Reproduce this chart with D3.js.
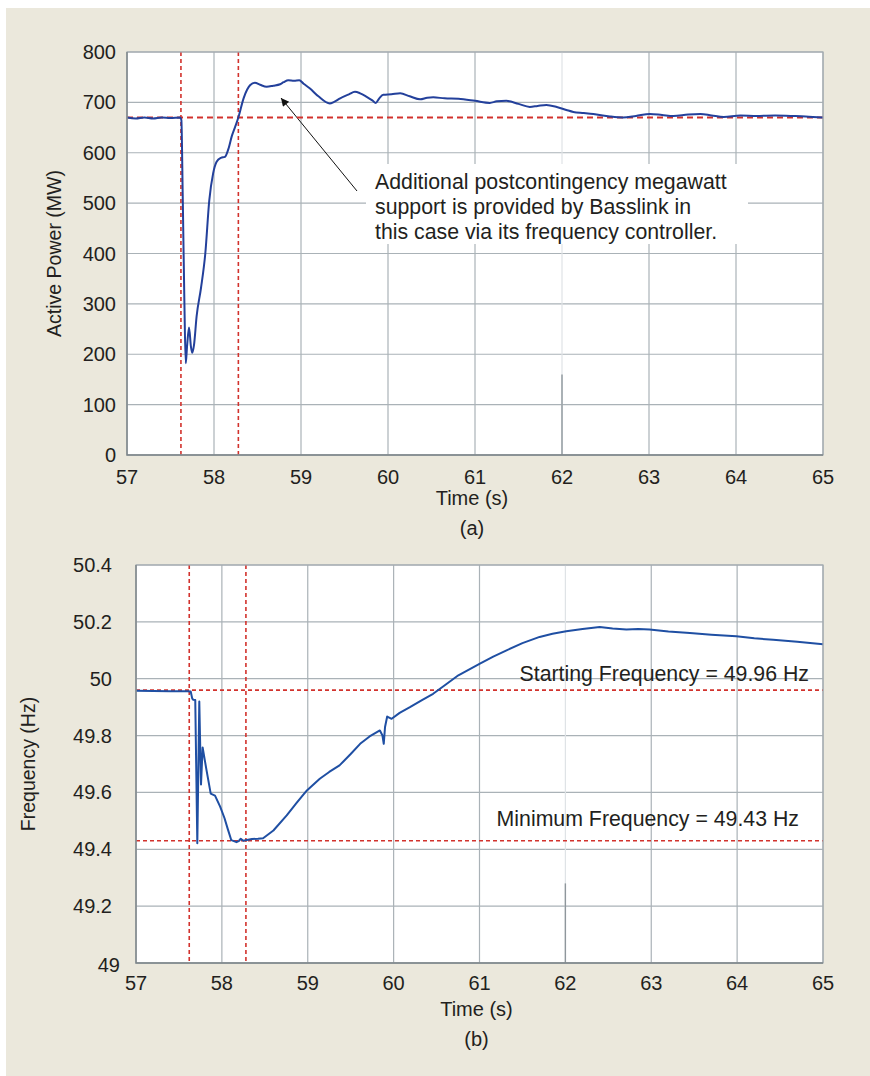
<!DOCTYPE html>
<html>
<head>
<meta charset="utf-8">
<script src="https://cdn.jsdelivr.net/npm/d3@7"></script>
<style>
  body { margin: 0; background: #fff; }
  text { font-family: "Liberation Sans", Arial, sans-serif; fill: #231f20; }
</style>
</head>
<body>
<div id="chart"></div>
<script>
// data
const timeTicks = [57, 58, 59, 60, 61, 62, 63, 64, 65];
const powerTicks = [0, 100, 200, 300, 400, 500, 600, 700, 800];
const freqTicks = [49, 49.2, 49.4, 49.6, 49.8, 50, 50.2, 50.4];

// (a) active power, MW
const powerT = [57.00, 57.10, 57.20, 57.30, 57.40, 57.50, 57.61, 57.625, 57.64, 57.66, 57.675,
  57.69, 57.713, 57.735, 57.75, 57.77, 57.80, 57.85, 57.90, 57.946, 57.99, 58.03, 58.08, 58.126,
  58.17, 58.203, 58.24, 58.28, 58.34, 58.38, 58.414, 58.47, 58.53, 58.605, 58.68, 58.76, 58.80,
  58.854, 58.92, 58.98, 59.03, 59.10, 59.20, 59.33, 59.38, 59.45, 59.55, 59.62, 59.68, 59.755,
  59.82, 59.86, 59.90, 59.946, 60.04, 60.14, 60.25, 60.37, 60.45, 60.52, 60.65, 60.81, 61.00,
  61.17, 61.25, 61.36, 61.50, 61.63, 61.72, 61.82, 61.94, 62.05, 62.13, 62.25, 62.36, 62.55,
  62.70, 62.85, 63.01, 63.15, 63.28, 63.45, 63.59, 63.72, 63.86, 64.05, 64.24, 64.45, 64.63,
  64.80, 65.00];
const powerMW = [670, 668, 670, 668, 670, 669, 670, 665, 520, 300, 182,
  215, 253, 215, 203, 218, 275, 331, 400, 506, 559, 582, 590, 592,
  610, 632, 650, 670, 708, 725, 734, 739, 735, 731, 733, 736, 740,
  744, 743, 744, 737, 728, 712, 698, 701, 708, 716, 721, 718, 711,
  704, 699, 708, 715, 716, 718, 712, 706, 709, 710, 708, 707, 703,
  699, 702, 703, 697, 691, 693, 695, 691, 685, 681, 679, 677, 672,
  670, 673, 677, 675, 673, 676, 677, 674, 671, 674, 673, 674, 673,
  672, 670];

// (b) frequency, Hz
const freqT = [57.00, 57.20, 57.40, 57.60, 57.637, 57.655, 57.667, 57.69, 57.714, 57.737,
  57.757, 57.776, 57.82, 57.87, 57.92, 57.98, 58.03, 58.07, 58.11, 58.17, 58.20, 58.22, 58.25,
  58.29, 58.35, 58.42, 58.48, 58.60, 58.755, 58.87, 58.99, 59.14, 59.25, 59.37, 59.50, 59.61,
  59.72, 59.84, 59.87, 59.885, 59.90, 59.925, 59.977, 60.07, 60.19, 60.33, 60.46, 60.60, 60.754,
  61.005, 61.16, 61.315, 61.50, 61.70, 61.85, 62.01, 62.20, 62.40, 62.55, 62.71, 62.85, 62.98,
  63.20, 63.45, 63.70, 63.99, 64.20, 64.42, 64.70, 65.00];
const freqHz = [49.958, 49.957, 49.956, 49.956, 49.955, 49.93, 49.926, 49.925, 49.421, 49.92,
  49.628, 49.758, 49.68, 49.596, 49.589, 49.55, 49.51, 49.47, 49.432, 49.425, 49.43, 49.437, 49.43,
  49.433, 49.436, 49.437, 49.439, 49.466, 49.519, 49.563, 49.607, 49.648, 49.672, 49.695, 49.735, 49.771,
  49.797, 49.818, 49.80, 49.771, 49.83, 49.867, 49.859, 49.88, 49.90, 49.925, 49.947, 49.978, 50.012,
  50.053, 50.078, 50.10, 50.125, 50.147, 50.158, 50.167, 50.175, 50.182, 50.177, 50.173, 50.175, 50.173,
  50.166, 50.161, 50.155, 50.149, 50.142, 50.137, 50.13, 50.121];

// event markers
const eventTimes = [57.62, 58.28];
const powerRef = [670];
const freqRef = [49.96, 49.43];

const W = 870, H = 1076;
const svg = d3.select("#chart").append("svg").attr("width", W).attr("height", H);
svg.append("rect").attr("x", 6).attr("y", 8).attr("width", W - 6).attr("height", H - 8).attr("fill", "#ebe8dc");

function panel(opt) {
  const x = d3.scaleLinear().domain([57, 65]).range([opt.left, opt.right]);
  const y = d3.scaleLinear().domain(opt.yDomain).range([opt.bottom, opt.top]);
  const g = svg.append("g");

  g.append("rect")
    .attr("x", opt.left).attr("y", opt.top)
    .attr("width", opt.right - opt.left).attr("height", opt.bottom - opt.top)
    .attr("fill", "#fff");

  // grid
  g.selectAll(".hg").data(opt.yTicks).enter().append("line")
    .attr("x1", opt.left).attr("x2", opt.right)
    .attr("y1", d => y(d)).attr("y2", d => y(d))
    .attr("stroke", "#aab2b7").attr("stroke-width", 1.2);
  g.selectAll(".vg").data(timeTicks).enter().append("line")
    .attr("x1", d => x(d)).attr("x2", d => x(d))
    .attr("y1", opt.top).attr("y2", opt.bottom)
    .attr("stroke", d => d === 62 ? "#dfe3e6" : "#aab2b7").attr("stroke-width", 1.2);
  // darker stub on the 62 s line, as in the scan
  g.append("line")
    .attr("x1", x(62)).attr("x2", x(62))
    .attr("y1", y(opt.stub)).attr("y2", opt.bottom)
    .attr("stroke", "#8f979c").attr("stroke-width", 1.4);

  // annotation box goes under the dashed lines
  if (opt.note) opt.note(g, x, y);

  // red reference lines
  g.selectAll(".ev").data(eventTimes).enter().append("line")
    .attr("x1", d => x(d)).attr("x2", d => x(d))
    .attr("y1", opt.top).attr("y2", opt.bottom)
    .attr("stroke", "#d2322d").attr("stroke-width", 1.6)
    .attr("stroke-dasharray", "4,3");
  g.selectAll(".rf").data(opt.refs).enter().append("line")
    .attr("x1", opt.left).attr("x2", opt.right)
    .attr("y1", d => y(d)).attr("y2", d => y(d))
    .attr("stroke", "#d2322d").attr("stroke-width", opt.refWidth)
    .attr("stroke-dasharray", opt.refDash);

  // curve
  const line = d3.line().x(d => x(d[0])).y(d => y(d[1])).curve(opt.curve);
  g.append("path")
    .datum(d3.zip(opt.t, opt.v))
    .attr("d", line)
    .attr("fill", "none")
    .attr("stroke", opt.color)
    .attr("stroke-width", 2)
    .attr("stroke-linejoin", "round");

  // frame
  g.append("rect")
    .attr("x", opt.left).attr("y", opt.top)
    .attr("width", opt.right - opt.left).attr("height", opt.bottom - opt.top)
    .attr("fill", "none").attr("stroke", "#a3abb0").attr("stroke-width", 1.2);
  g.append("path")
    .attr("d", `M${opt.left},${opt.top}V${opt.bottom}H${opt.right}`)
    .attr("fill", "none").attr("stroke", "#7d8589").attr("stroke-width", 1.3);

  // tick labels
  g.selectAll(".yl").data(opt.yTicks).enter().append("text")
    .attr("x", d => opt.yLabelX + (opt.yShift ? opt.yShift(d) : 0))
    .attr("y", d => y(d) + 7 + (opt.yShift && opt.yShift(d) ? 2 : 0))
    .attr("text-anchor", "end")
    .attr("font-size", 20)
    .text(opt.yFormat);
  g.selectAll(".xl").data(timeTicks).enter().append("text")
    .attr("x", d => x(d))
    .attr("y", opt.bottom + opt.xLabelDy)
    .attr("text-anchor", "middle")
    .attr("font-size", 20)
    .text(d => d);

  g.append("text")
    .attr("x", (opt.left + opt.right) / 2 - 3)
    .attr("y", opt.bottom + opt.xLabelDy + opt.titleGap)
    .attr("text-anchor", "middle")
    .attr("font-size", 20)
    .text("Time (s)");
  g.append("text")
    .attr("x", (opt.left + opt.right) / 2 - 3)
    .attr("y", opt.bottom + opt.xLabelDy + opt.titleGap + 30)
    .attr("text-anchor", "middle")
    .attr("font-size", 20)
    .text(opt.tag);
  g.append("text")
    .attr("transform", `translate(${opt.titleX},${(opt.top + opt.bottom) / 2}) rotate(-90)`)
    .attr("text-anchor", "middle")
    .attr("font-size", 19.5)
    .text(opt.yTitle);
}

panel({
  left: 127, right: 823, top: 52, bottom: 455,
  yDomain: [0, 800], yTicks: powerTicks, yFormat: d => d, yLabelX: 116,
  t: powerT, v: powerMW, color: "#23409b", curve: d3.curveMonotoneX,
  refs: powerRef, refWidth: 1.8, refDash: "6,4", stub: 160,
  xLabelDy: 29, titleGap: 21, tag: "(a)", yTitle: "Active Power (MW)", titleX: 61,
  note: (g, x, y) => {
    g.append("rect").attr("x", 366).attr("y", 164).attr("width", 382).attr("height", 80).attr("fill", "#fff");
    const lines = ["Additional postcontingency megawatt",
                   "support is provided by Basslink in",
                   "this case via its frequency controller."];
    g.selectAll(".note").data(lines).enter().append("text")
      .attr("x", 375).attr("y", (d, i) => 189 + i * 25)
      .attr("font-size", 21.3)
      .text(d => d);
    g.append("defs").append("marker")
      .attr("id", "arrow").attr("viewBox", "0 0 10 10")
      .attr("refX", 10).attr("refY", 5)
      .attr("markerWidth", 10).attr("markerHeight", 8)
      .attr("markerUnits", "userSpaceOnUse")
      .attr("orient", "auto")
      .append("path").attr("d", "M0,0L10,5L0,10Z").attr("fill", "#111");
    g.append("line")
      .attr("x1", 357).attr("y1", 191).attr("x2", 281).attr("y2", 98)
      .attr("stroke", "#111").attr("stroke-width", 1)
      .attr("marker-end", "url(#arrow)");
  }
});

panel({
  left: 136, right: 823, top: 565, bottom: 963,
  yDomain: [49, 50.4], yTicks: freqTicks, yFormat: d => d, yLabelX: 112,
  yShift: d => d === 49 ? 8 : 0,
  t: freqT, v: freqHz, color: "#1f4fa3", curve: d3.curveLinear,
  refs: freqRef, refWidth: 1.6, refDash: "4,3", stub: 49.28,
  xLabelDy: 27, titleGap: 26, tag: "(b)", yTitle: "Frequency (Hz)", titleX: 35,
  note: (g, x, y) => {
    g.append("text").attr("x", 809).attr("y", y(49.96) - 9)
      .attr("text-anchor", "end").attr("font-size", 21.3)
      .text("Starting Frequency = 49.96 Hz");
    g.append("text").attr("x", 799).attr("y", y(49.43) - 15)
      .attr("text-anchor", "end").attr("font-size", 21.3)
      .text("Minimum Frequency = 49.43 Hz");
  }
});
</script>
</body>
</html>
